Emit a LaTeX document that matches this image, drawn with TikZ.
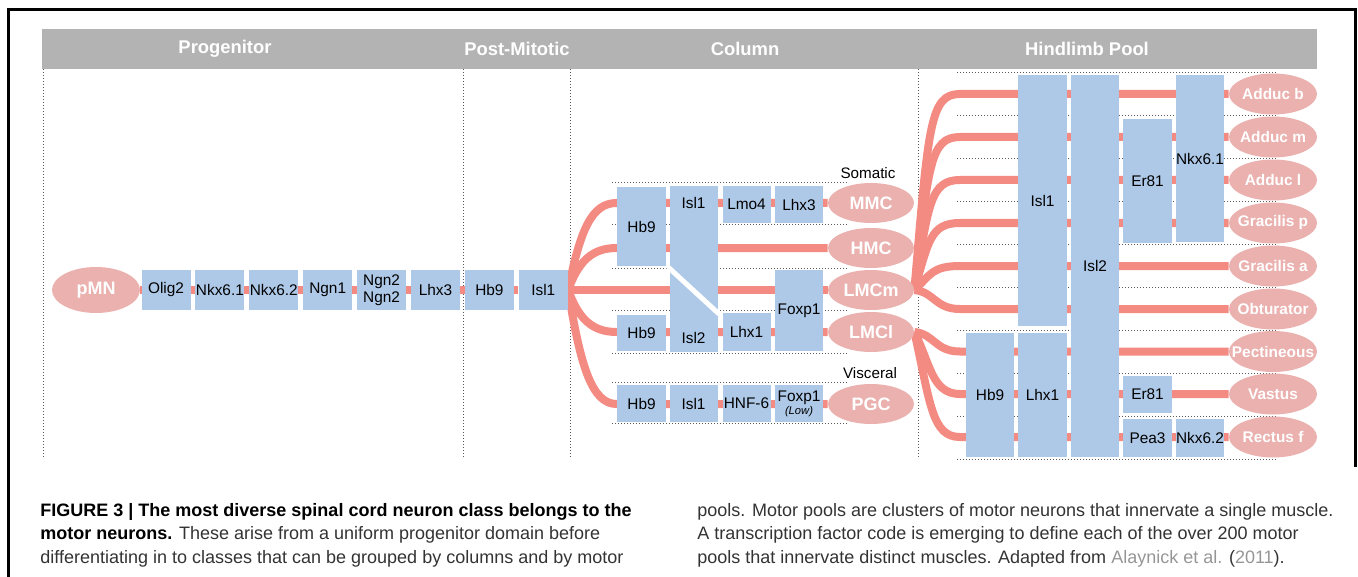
\documentclass[tikz,border=0pt]{standalone}
\usepackage{fontspec}
\setmainfont{Liberation Sans}
\usetikzlibrary{shapes.geometric,backgrounds}
\definecolor{tfblue}{RGB}{174,201,232}
\definecolor{linkred}{RGB}{243,139,131}
\definecolor{cellpink}{RGB}{234,177,175}
\definecolor{headgray}{RGB}{179,179,179}
\definecolor{citegray}{RGB}{150,150,150}
\begin{document}
\begin{tikzpicture}[x=0.5pt,y=0.5pt,yscale=-1,
  tf/.style={rectangle,fill=tfblue,inner sep=0pt,align=center,font=\fontsize{7.7}{8.6}\selectfont},
  chain/.style={tf,minimum width=24.5pt,minimum height=20pt},
  lbl/.style={inner sep=0pt,font=\fontsize{7.7}{8.6}\selectfont},
  cell/.style={ellipse,fill=cellpink,text=white,inner xsep=-12pt,inner ysep=0pt,minimum width=43pt,minimum height=20pt,font=\bfseries\fontsize{9}{10}\selectfont},
  pool/.style={cell,minimum width=44pt,minimum height=20.5pt,font=\bfseries\fontsize{7.7}{9}\selectfont},
  link/.style={draw=linkred,line width=4pt},
  dotline/.style={draw=black!65,line width=0.5pt,dash pattern=on 0.5pt off 1pt},
  head/.style={text=white,inner sep=0pt,font=\bfseries\fontsize{9.2}{11}\selectfont},
  tag/.style={inner sep=0pt,font=\fontsize{7.6}{9}\selectfont},
  capt/.style={inner sep=0pt,align=left,text=black!80,font=\fontsize{9}{11.75}\selectfont}]
\useasboundingbox (0,0) rectangle (1358,577);
\draw[line width=1.5pt] (8,577) -- (8,10) -- (1355,10) -- (1355,467);
\fill[headgray] (42,29) rectangle (1317,69);
\node[head] (hprog) at (225,49) {Progenitor};
\node[head] (hpost) at (517,49) {Post-Mitotic};
\node[head] (hcol) at (745,49) {Column};
\node[head] (hpool) at (1087,49) {Hindlimb Pool};

\node[cell,minimum width=44pt,minimum height=23pt] (pmn) at (96,290) {pMN};
\node[chain] (olig) at (166,290) {Olig2};
\node[chain] (nkxa) at (219.9,290) {Nkx6.1};
\node[chain] (nkxb) at (273.8,290) {Nkx6.2};
\node[chain] (ngna) at (327.7,290) {Ngn1};
\node[chain] (ngnb) at (381.6,290) {Ngn2\\Ngn2};
\node[chain] (lhx) at (435.5,290) {Lhx3};
\node[chain] (hb) at (489.4,290) {Hb9};
\node[chain] (isl) at (543.3,290) {Isl1};

\node[tag] (somatic) at (868,173) {Somatic};
\node[tf,minimum width=24.5pt,minimum height=39.5pt] (hbm) at (641.5,226.5) {Hb9};
\node[tf,minimum width=24pt,minimum height=83pt] (islc) at (693.5,269) {};
\draw[white,line width=2.5pt] (668,267) -- (719,314);
\node[lbl] (islone) at (693.5,203) {Isl1};
\node[lbl] (isltwo) at (693.5,338) {Isl2};
\node[tf,minimum width=24pt,minimum height=18.5pt] (lmo) at (746.5,204.5) {Lmo4};
\node[tf,minimum width=24pt,minimum height=18.5pt] (lhxm) at (799,204.5) {Lhx3};
\node[tf,minimum width=24pt,minimum height=40.5pt] (foxl) at (799,310.5) {Foxp1};
\node[tf,minimum width=24.5pt,minimum height=18pt] (hbl) at (641.5,333) {Hb9};
\node[tf,minimum width=24pt,minimum height=19pt] (lhxl) at (746.5,332) {Lhx1};
\node[tag] (visceral) at (870,373) {Visceral};
\node[tf,minimum width=24.5pt,minimum height=18.5pt] (hbv) at (641.5,403.5) {Hb9};
\node[tf,minimum width=24pt,minimum height=18.5pt] (islv) at (693.5,403.5) {Isl1};
\node[tf,minimum width=24pt,minimum height=18.5pt] (hnf) at (746.5,403.5) {HNF-6};
\node[tf,minimum width=24pt,minimum height=18.5pt] (foxv) at (799,403.5) {Foxp1\\[-2.2pt]{\itshape\fontsize{5.6}{6}\selectfont (Low)}};
\node[cell] (mmc) at (871,203) {MMC};
\node[cell] (hmc) at (871,248) {HMC};
\node[cell] (lmcm) at (871,290) {LMCm};
\node[cell] (lmcl) at (871,332) {LMCl};
\node[cell] (pgc) at (871,404) {PGC};

\node[tf,minimum width=24pt,minimum height=62pt] (hbh) at (990,395) {Hb9};
\node[tf,minimum width=24.5pt,minimum height=125.5pt] (isloneh) at (1042.5,200.5) {Isl1};
\node[tf,minimum width=24.5pt,minimum height=62pt] (lhxh) at (1042.5,395) {Lhx1};
\node[tf,minimum width=24pt,minimum height=191pt] (isltwoh) at (1095,266) {Isl2};
\node[tf,minimum width=24.5pt,minimum height=62pt] (era) at (1147.5,181) {Er81};
\node[tf,minimum width=24pt,minimum height=83.5pt] (nkxc) at (1200,158.5) {Nkx6.1};
\node[tf,minimum width=24.5pt,minimum height=18.5pt] (erb) at (1147.5,394.5) {Er81};
\node[tf,minimum width=24.5pt,minimum height=19pt] (pea) at (1147.5,438) {Pea3};
\node[tf,minimum width=24pt,minimum height=19pt] (nkxd) at (1200,438) {Nkx6.2};
\node[pool] (adb) at (1273,94) {Adduc b};
\node[pool] (adm) at (1273,137) {Adduc m};
\node[pool] (adl) at (1273,180) {Adduc l};
\node[pool] (grp) at (1273,223) {Gracilis p};
\node[pool] (gra) at (1273,266) {Gracilis a};
\node[pool] (obt) at (1273,309) {Obturator};
\node[pool] (pec) at (1273,351.5) {Pectineous};
\node[pool] (vas) at (1273,394) {Vastus};
\node[pool] (rec) at (1273,437) {Rectus f};

\begin{pgfonlayer}{background}
\draw[dotline] (43,69) -- (43,458);
\draw[dotline] (463,69) -- (463,458);
\draw[dotline] (570,69) -- (570,458);
\draw[dotline] (918,69) -- (918,458);
\draw[dotline] (612,183) -- (847,183);
\draw[dotline] (612,225) -- (847,225);
\draw[dotline] (612,268) -- (847,268);
\draw[dotline] (612,310) -- (847,310);
\draw[dotline] (612,353) -- (847,353);
\draw[dotline] (612,382) -- (847,382);
\draw[dotline] (612,423) -- (847,423);
\draw[dotline] (957,73) -- (1278,73);
\draw[dotline] (957,116) -- (1278,116);
\draw[dotline] (957,159) -- (1278,159);
\draw[dotline] (957,202) -- (1278,202);
\draw[dotline] (957,244.5) -- (1278,244.5);
\draw[dotline] (957,287.5) -- (1278,287.5);
\draw[dotline] (957,330.5) -- (1278,330.5);
\draw[dotline] (957,373) -- (1278,373);
\draw[dotline] (957,416) -- (1278,416);
\draw[dotline] (957,459) -- (1278,459);
\draw[link] (pmn) -- (isl);
\draw[link] (isl.east) .. controls +(12,-60) and +(-25,0) .. (mmc -| hbm.west) -- (mmc);
\draw[link] (isl.east) .. controls +(10,-28) and +(-25,0) .. (hmc -| hbm.west) -- (hmc);
\draw[link] (isl.east) -- (lmcm);
\draw[link] (isl.east) .. controls +(10,28) and +(-25,0) .. (lmcl -| hbl.west) -- (lmcl);
\draw[link] (isl.east) .. controls +(12,75) and +(-25,0) .. (pgc -| hbv.west) -- (pgc);
\coordinate (hl) at (960,0);
\draw[link] (lmcm.east) .. controls +(14,-165) and +(-30,0) .. (adb -| hl) -- (adb);
\draw[link] (lmcm.east) .. controls +(14,-125) and +(-30,0) .. (adm -| hl) -- (adm);
\draw[link] (lmcm.east) .. controls +(14,-85) and +(-30,0) .. (adl -| hl) -- (adl);
\draw[link] (lmcm.east) .. controls +(14,-48) and +(-30,0) .. (grp -| hl) -- (grp);
\draw[link] (lmcm.east) .. controls +(16,-15) and +(-28,0) .. (gra -| hl) -- (gra);
\draw[link] (lmcm.east) .. controls +(20,2) and +(-25,0) .. (obt -| hl) -- (obt);
\draw[link] (lmcl.east) .. controls +(20,2) and +(-25,0) .. (pec -| hl) -- (pec);
\draw[link] (lmcl.east) .. controls +(16,32) and +(-28,0) .. (vas -| hl) -- (vas);
\draw[link] (lmcl.east) .. controls +(16,72) and +(-28,0) .. (rec -| hl) -- (rec);
\end{pgfonlayer}

\node[capt,anchor=north west] (capl) at (40,503) {\textbf{\color{black}FIGURE 3 | The most diverse spinal cord neuron class belongs to the}\\\textbf{\color{black}motor neurons.} These arise from a uniform progenitor domain before\\differentiating in to classes that can be grouped by columns and by motor};
\node[capt,anchor=north west] (capr) at (697,503) {pools. Motor pools are clusters of motor neurons that innervate a single muscle.\\A transcription factor code is emerging to define each of the over 200 motor\\pools that innervate distinct muscles. Adapted from \textcolor{citegray}{Alaynick et al.} (\textcolor{citegray}{2011}).};
\end{tikzpicture}
\end{document}
